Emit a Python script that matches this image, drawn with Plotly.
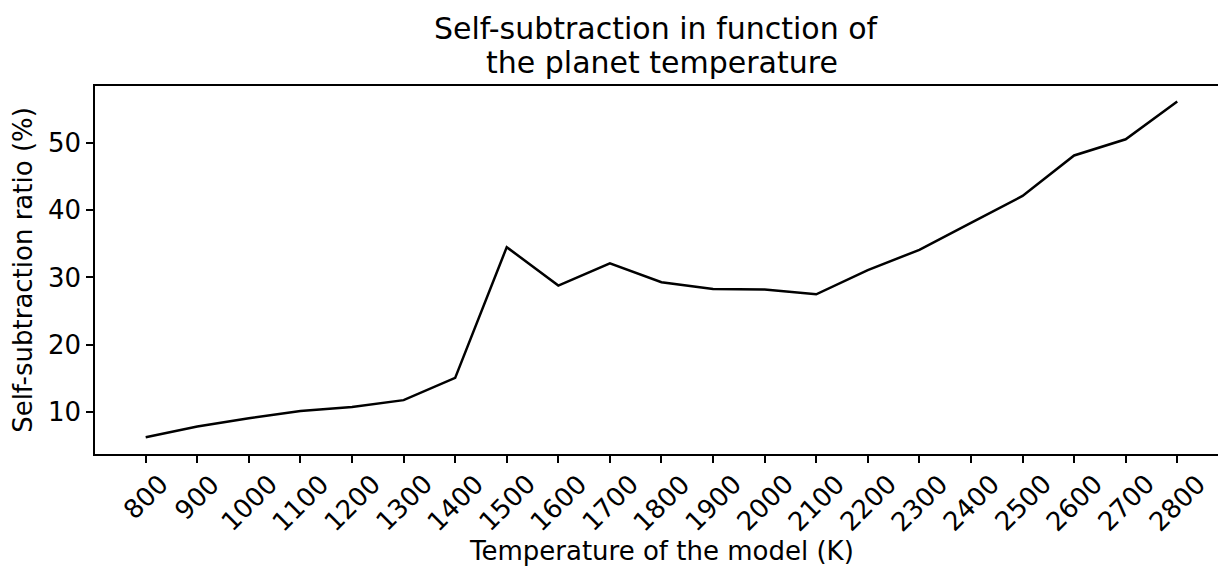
import plotly.graph_objects as go

# Model temperatures (K) and measured self-subtraction ratio (%)
temperatures = [800, 900, 1000, 1100, 1200, 1300, 1400, 1500, 1600, 1700, 1800,
                1900, 2000, 2100, 2200, 2300, 2400, 2500, 2600, 2700, 2800]
self_subtraction = [6.3, 7.9, 9.1, 10.2, 10.8, 11.8, 15.1, 34.5, 28.8, 32.1, 29.3,
                    28.3, 28.2, 27.5, 31.1, 34.1, 38.1, 42.1, 48.1, 50.5, 56.1]

x_tick_labels = [str(t) for t in temperatures]
y_ticks = [10, 20, 30, 40, 50]
title_lines = ["Self-subtraction in function of", "the planet temperature"]
x_title = "Temperature of the model (K)"
y_title = "Self-subtraction ratio (%)"

FONT = "DejaVu Sans"
INK = "#000000"
LABEL_SIZE = 26
TITLE_SIZE = 30

fig = go.Figure(
    go.Scatter(
        x=temperatures,
        y=self_subtraction,
        mode="lines",
        line=dict(color=INK, width=2.5),
        hoverinfo="skip",
    )
)

fig.update_layout(
    width=1218,
    height=566,
    margin=dict(l=95, r=0, t=86, b=112),
    paper_bgcolor="white",
    plot_bgcolor="white",
    showlegend=False,
    font=dict(family=FONT, size=LABEL_SIZE, color=INK),
)

fig.update_xaxes(
    range=[701.7, 2879],
    tickmode="array",
    tickvals=temperatures,
    showticklabels=False,
    ticks="outside",
    ticklen=7,
    tickwidth=1.6,
    tickcolor=INK,
    showline=True,
    linecolor=INK,
    linewidth=1.6,
    mirror=True,
    showgrid=False,
    zeroline=False,
)

fig.update_yaxes(
    range=[3.81, 58.41],
    tickmode="array",
    tickvals=y_ticks,
    ticktext=[str(v) for v in y_ticks],
    ticks="outside",
    ticklen=7,
    tickwidth=1.6,
    tickcolor=INK,
    showline=True,
    linecolor=INK,
    linewidth=1.6,
    mirror=False,
    showgrid=False,
    zeroline=False,
    tickfont=dict(family=FONT, size=LABEL_SIZE, color=INK),
    title=dict(text=y_title, font=dict(family=FONT, size=LABEL_SIZE, color=INK), standoff=8),
)

# Rotated x tick labels, each centred under its tick
for t, label in zip(temperatures, x_tick_labels):
    fig.add_annotation(
        text=label,
        xref="x", yref="paper",
        x=t, y=0,
        xanchor="center", yanchor="top",
        yshift=-12,
        textangle=-45,
        showarrow=False,
        font=dict(family=FONT, size=LABEL_SIZE, color=INK),
    )

# X axis title
fig.add_annotation(
    text=x_title,
    xref="paper", yref="paper",
    x=0.5, y=-0.2636,
    xanchor="center", yanchor="middle",
    xshift=5,
    showarrow=False,
    font=dict(family=FONT, size=LABEL_SIZE, color=INK),
)

# Two-line title above the axes
for text, ypos, dx in zip(title_lines, [1.1576, 1.0652], [0, 5]):
    fig.add_annotation(
        text=text,
        xref="paper", yref="paper",
        x=0.5, y=ypos,
        xanchor="center", yanchor="middle",
        xshift=dx,
        showarrow=False,
        font=dict(family=FONT, size=TITLE_SIZE, color=INK),
    )

fig.write_html("out.html")
